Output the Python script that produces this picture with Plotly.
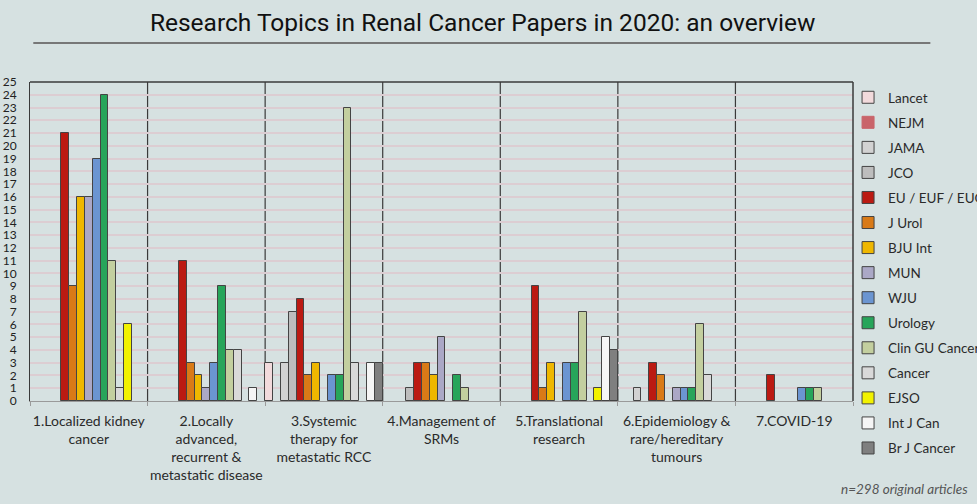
import plotly.graph_objects as go

categories = [
    "1.Localized kidney<br>cancer",
    "2.Locally<br>advanced,<br>recurrent &<br>metastatic disease",
    "3.Systemic<br>therapy for<br>metastatic RCC",
    "4.Management of<br>SRMs",
    "5.Translational<br>research",
    "6.Epidemiology &<br>rare/hereditary<br>tumours",
    "7.COVID-19",
]

journals = ["Lancet", "NEJM", "JAMA", "JCO", "EU / EUF / EUO", "J Urol", "BJU Int",
            "MUN", "WJU", "Urology", "Clin GU Cancer", "Cancer", "EJSO", "Int J Can", "Br J Cancer"]

# values per journal across the 7 topics
lancet  = [0, 0, 3, 0, 0, 0, 0]
nejm    = [0, 0, 0, 0, 0, 0, 0]
jama    = [0, 0, 3, 0, 0, 1, 0]
jco     = [0, 0, 7, 1, 0, 0, 0]
eu      = [21, 11, 8, 3, 9, 3, 2]
jurol   = [9, 3, 2, 3, 1, 2, 0]
bjuint  = [16, 2, 3, 2, 3, 0, 0]
mun     = [16, 1, 0, 5, 0, 1, 0]
wju     = [19, 3, 2, 0, 3, 1, 1]
urology = [24, 9, 2, 2, 3, 1, 1]
clingu  = [11, 4, 23, 1, 7, 6, 1]
cancer  = [1, 4, 3, 0, 0, 2, 0]
ejso    = [6, 0, 0, 0, 1, 0, 0]
intjcan = [0, 1, 3, 0, 5, 0, 0]
brjcan  = [0, 0, 3, 0, 4, 0, 0]

series = [lancet, nejm, jama, jco, eu, jurol, bjuint, mun, wju, urology, clingu, cancer, ejso, intjcan, brjcan]

colors = ["#f2dadc", "#c9646a", "#d2d2d2", "#bdbdbd", "#bb1a12", "#d97a17", "#efb700",
          "#aba8c6", "#6b95d1", "#27a55a", "#c3cf9f", "#d9d9d9", "#f2f200", "#f5f5f5", "#7f7f7f"]
line_colors = ["#444"] * 15
line_colors[1] = "#c9646a"

y_ticks = list(range(0, 26))

fig = go.Figure()
for name, vals, col, lc in zip(journals, series, colors, line_colors):
    fig.add_trace(go.Bar(
        name=name, x=categories, y=[v if v else None for v in vals],
        marker=dict(color=col, line=dict(color=lc, width=1)),
        legendgroup=name,
    ))

# group separators at category boundaries
separators = [
    dict(type="line", xref="x", yref="paper", x0=i + 0.5, x1=i + 0.5, y0=0, y1=1,
         layer="between", line=dict(color="#3a3a3a", width=1.2))
    for i in range(len(categories) - 1)
]

fig.update_layout(
    width=977, height=504,
    paper_bgcolor="#d6e1e1", plot_bgcolor="#d6e1e1",
    barmode="group", bargap=0, bargroupgap=0,
    margin=dict(l=30, r=124, t=82, b=103, autoexpand=False),
    font=dict(family="Lato, Open Sans, sans-serif", color="#2a2a2a"),
    title=dict(text="Research Topics in Renal Cancer Papers in 2020: an overview",
               x=0.494, xanchor="center", y=0.956, yanchor="middle",
               font=dict(family="Liberation Sans Narrow, Roboto, sans-serif", size=24.5, color="#111")),
    legend=dict(x=0.994, xanchor="left", y=1.0, yanchor="top", maxheight=440,
                font=dict(size=13.5, color="#2a2a2a"), tracegroupgap=4.5,
                bgcolor="rgba(0,0,0,0)", itemclick=False),
    showlegend=True,
    xaxis=dict(type="category", tickson="boundaries", showgrid=False,
               showline=True, linecolor="#9a9a9a", linewidth=1, tickangle=0,
               ticks="outside", ticklen=4, tickcolor="#9a9a9a", ticklabelstandoff=7,
               tickfont=dict(size=14, color="#2a2a2a")),
    yaxis=dict(range=[0, 25], tickvals=y_ticks, showgrid=True, gridcolor="#dccdd2",
               gridwidth=1.5, zeroline=False, showline=True, linecolor="#3a3a3a",
               tickfont=dict(size=12, color="#222"), ticklabelstandoff=10),
    shapes=separators + [
        dict(type="line", xref="paper", yref="paper", x0=0, x1=1, y0=1, y1=1,
             line=dict(color="#3a3a3a", width=1.5)),
        dict(type="line", xref="paper", yref="paper", x0=1, x1=1, y0=0, y1=1,
             line=dict(color="#3a3a3a", width=1.5)),
        dict(type="line", xref="paper", yref="paper", x0=0.004, x1=1.094, y0=1.122, y1=1.122,
             line=dict(color="#777", width=2)),
    ],
    annotations=[
        dict(text="<i>n=298 original articles</i>", xref="paper", yref="paper",
             x=1.142, y=-0.276, xanchor="right", yanchor="middle", showarrow=False,
             font=dict(size=13.5, color="#555")),
    ],
)

fig.write_html("out.html", config={"displayModeBar": False},
               post_script="document.body.style.margin='0';")
